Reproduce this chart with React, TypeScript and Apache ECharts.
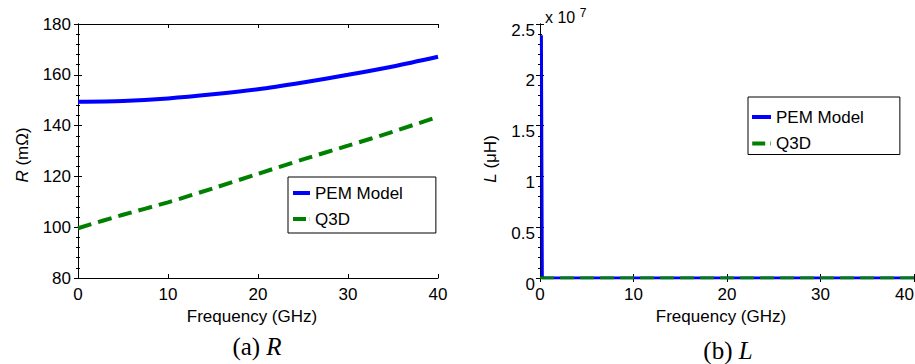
import React, { useEffect, useRef } from "react";
import * as echarts from "echarts";

// ---- Data ----
const freqR = [0, 5, 10, 15, 20, 25, 30, 35, 40]; // GHz
const pemR = [149.4, 149.7, 150.7, 152.3, 154.3, 157.0, 160.0, 163.3, 167.1]; // mΩ
const q3dR = [99.6, 104.9, 109.8, 115.3, 121.0, 126.7, 132.1, 137.6, 143.5]; // mΩ

const freqL = [0.15, 0.25, 10, 20, 30, 40]; // GHz
const pemL = [2.39e7, 0.001, 0.001, 0.001, 0.001, 0.001]; // µH
const freqLq = [0, 10, 20, 30, 40]; // GHz
const q3dL = [0.001, 0.001, 0.001, 0.001, 0.001]; // µH

const xTicks = { min: 0, max: 40, interval: 10 };
const rTicks = { min: 80, max: 180, interval: 20 };
const lTicks = { min: 0, max: 2.5e7, interval: 0.5e7 };
const seriesNames = ["PEM Model", "Q3D"];

const SANS = "'Liberation Sans', Arial, sans-serif";
const SERIF = "'Liberation Serif', 'Times New Roman', serif";
const BLUE = "#0000ff";
const GREEN = "#008000";
const FS = 17;

const pairs = (xs: number[], ys: number[]) => xs.map((x, i) => [x, ys[i]]);

export default function App() {
  const ref = useRef<HTMLDivElement>(null);

  useEffect(() => {
    document.body.style.margin = "0";
    if (!ref.current) return;
    const chart = echarts.init(ref.current, null, { renderer: "svg" });

    const tick = { show: true, inside: true, length: 4, lineStyle: { color: "#000", width: 1 } };
    const minor = { show: true, splitNumber: 5, length: 2, lineStyle: { color: "#000", width: 1 } };
    const line = { show: true, lineStyle: { color: "#000", width: 1 } };
    const labelStyle = { color: "#000", fontSize: FS, fontFamily: SANS };

    const xAxisBase = (
      gridIndex: number,
      position: string,
      showLabel: boolean,
      name?: string,
      alignMax?: string
    ) => ({
      type: "value",
      gridIndex,
      position,
      ...xTicks,
      axisLine: line,
      axisTick: tick,
      splitLine: { show: false },
      axisLabel: showLabel
        ? { ...labelStyle, margin: 8, ...(alignMax ? { alignMaxLabel: alignMax } : {}) }
        : { show: false },
      name: name || "",
      nameLocation: "middle",
      nameGap: 29,
      nameTextStyle: { ...labelStyle, padding: [0, 12, 0, 0] },
    });

    const legendBase = {
      orient: "vertical",
      itemHeight: 4,
      borderColor: "#000",
      borderWidth: 1,
      backgroundColor: "#fff",
      selectedMode: false,
      itemStyle: { borderWidth: 0 },
      textStyle: { ...labelStyle, lineHeight: 20 },
    };

    const option: any = {
      animation: false,
      backgroundColor: "#fff",
      grid: [
        { left: 78, top: 24, width: 360, height: 254, containLabel: false, outerBoundsMode: "none" },
        { left: 540, top: 24, width: 374, height: 254, containLabel: false, outerBoundsMode: "none" },
      ],
      xAxis: [
        xAxisBase(0, "bottom", true, "Frequency (GHz)"),
        xAxisBase(0, "top", false),
        xAxisBase(1, "bottom", true, "Frequency (GHz)", "right"),
        xAxisBase(1, "top", false),
      ],
      yAxis: [
        {
          type: "value",
          gridIndex: 0,
          position: "left",
          ...rTicks,
          axisLine: line,
          axisTick: tick,
          minorTick: minor,
          splitLine: { show: false },
          axisLabel: { ...labelStyle, margin: 7 },
          name: "{it|R} (mΩ)",
          nameLocation: "middle",
          nameGap: 47,
          nameTextStyle: {
            ...labelStyle,
            padding: [0, 8, 0, 0],
            rich: { it: { fontStyle: "italic", fontSize: FS, fontFamily: SANS, color: "#000" } },
          },
        },
        {
          type: "value",
          gridIndex: 0,
          position: "right",
          ...rTicks,
          axisLine: line,
          axisTick: tick,
          minorTick: minor,
          splitLine: { show: false },
          axisLabel: { show: false },
        },
        {
          type: "value",
          gridIndex: 1,
          position: "left",
          ...lTicks,
          axisLine: line,
          axisTick: tick,
          minorTick: minor,
          splitLine: { show: false },
          axisLabel: {
            ...labelStyle,
            margin: 5,
            verticalAlign: "top",
            lineHeight: 12,
            formatter: (v: number) => String(v / 1e7),
          },
          name: "{it|L} (μH)",
          nameLocation: "middle",
          nameGap: 41,
          nameTextStyle: {
            ...labelStyle,
            padding: [0, 16, 0, 0],
            rich: { it: { fontStyle: "italic", fontSize: FS, fontFamily: SANS, color: "#000" } },
          },
        },
        {
          type: "value",
          gridIndex: 1,
          position: "right",
          ...lTicks,
          axisLine: line,
          axisTick: tick,
          minorTick: minor,
          splitLine: { show: false },
          axisLabel: { show: false },
        },
      ],
      legend: [
        {
          ...legendBase,
          data: [
            { name: seriesNames[0], icon: "rect" },
            { name: seriesNames[1], icon: "path://M0,0H13V4H0Z M16.8,0H17V4H16.8Z" },
          ],
          left: 288,
          top: 177,
          padding: [6, 33, 4, 5],
          itemGap: 6,
          itemWidth: 17,
        },
        {
          ...legendBase,
          data: [
            { name: seriesNames[0], icon: "rect" },
            { name: seriesNames[1], icon: "path://M0,0H13V4H0Z M18,0H18.6V4H18Z" },
          ],
          left: 748,
          top: 97,
          padding: [10, 36, 1, 4],
          itemGap: 6.5,
          itemWidth: 19,
        },
      ],
      series: [
        {
          name: seriesNames[0],
          type: "line",
          xAxisIndex: 0,
          yAxisIndex: 0,
          data: pairs(freqR, pemR),
          smooth: 0.3,
          symbol: "none",
          lineStyle: { color: BLUE, width: 4 },
          itemStyle: { color: BLUE },
        },
        {
          name: seriesNames[1],
          type: "line",
          xAxisIndex: 0,
          yAxisIndex: 0,
          data: pairs(freqR, q3dR),
          smooth: 0.3,
          symbol: "none",
          lineStyle: { color: GREEN, width: 4, type: [14, 7] },
          itemStyle: { color: GREEN },
        },
        {
          name: seriesNames[0],
          type: "line",
          xAxisIndex: 2,
          yAxisIndex: 2,
          data: pairs(freqL, pemL),
          symbol: "none",
          lineStyle: { color: BLUE, width: 3 },
          itemStyle: { color: BLUE },
        },
        {
          name: seriesNames[1],
          type: "line",
          xAxisIndex: 2,
          yAxisIndex: 2,
          data: pairs(freqLq, q3dL),
          symbol: "none",
          lineStyle: { color: GREEN, width: 3, type: [14, 6] },
          itemStyle: { color: GREEN },
        },
      ],
      graphic: [
        {
          type: "text",
          x: 545,
          y: 7,
          style: {
            text: "x 10 {sup|7}",
            fontSize: 16,
            fontFamily: SANS,
            fill: "#000",
            rich: { sup: { fontSize: 12, fontFamily: SANS, fill: "#000", padding: [0, 0, 8, 0] } },
          },
        },
        {
          type: "text",
          x: 257,
          y: 346,
          style: {
            text: "(a) {i|R}",
            fontSize: 25,
            fontFamily: SERIF,
            fill: "#000",
            align: "center",
            verticalAlign: "middle",
            rich: { i: { fontStyle: "italic", fontSize: 25, fontFamily: SERIF, fill: "#000" } },
          },
        },
        {
          type: "text",
          x: 728,
          y: 350,
          style: {
            text: "(b) {i|L}",
            fontSize: 25,
            fontFamily: SERIF,
            fill: "#000",
            align: "center",
            verticalAlign: "middle",
            rich: { i: { fontStyle: "italic", fontSize: 25, fontFamily: SERIF, fill: "#000" } },
          },
        },
      ],
    };

    chart.setOption(option);
    return () => chart.dispose();
  }, []);

  return <div ref={ref} style={{ width: 915, height: 364 }} />;
}
